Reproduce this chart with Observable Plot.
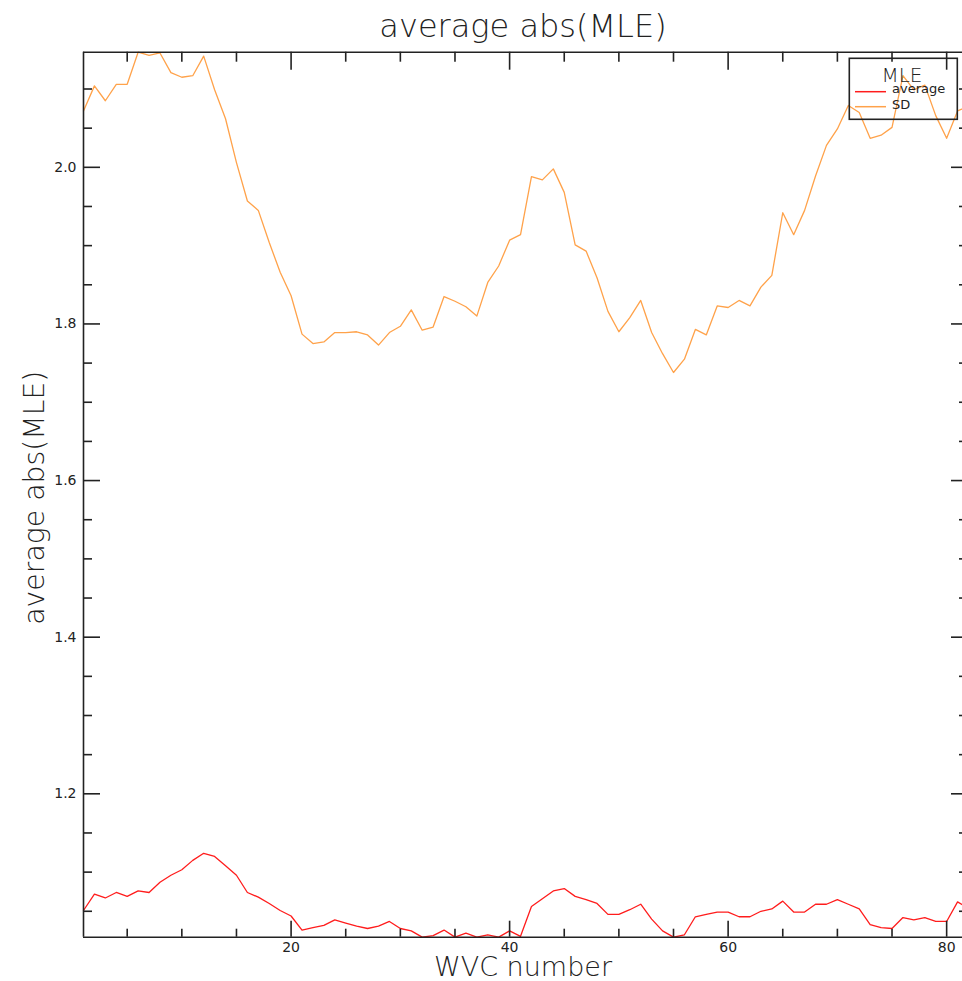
<!DOCTYPE html>
<html>
<head>
<meta charset="utf-8">
<script src="https://cdn.jsdelivr.net/npm/d3@7"></script>
<script src="https://cdn.jsdelivr.net/npm/@observablehq/plot@0.6"></script>
<style>
html, body { margin: 0; padding: 0; background: #fff; overflow: hidden; }
#chart svg { overflow: hidden; display: block; }
</style>
</head>
<body>
<div id="chart"></div>
<script>
// ---- data ----
const wvc = [1,2,3,4,5,6,7,8,9,10,11,12,13,14,15,16,17,18,19,20,21,22,23,24,25,26,27,28,29,30,31,32,33,34,35,36,37,38,39,40,41,42,43,44,45,46,47,48,49,50,51,52,53,54,55,56,57,58,59,60,61,62,63,64,65,66,67,68,69,70,71,72,73,74,75,76,77,78,79,80,81,82];
const sdValues = [2.072,2.104,2.085,2.106,2.106,2.147,2.143,2.146,2.121,2.115,2.117,2.142,2.099,2.062,2.006,1.957,1.945,1.904,1.866,1.836,1.787,1.775,1.777,1.789,1.789,1.790,1.786,1.773,1.789,1.797,1.818,1.792,1.796,1.835,1.829,1.822,1.810,1.853,1.874,1.907,1.914,1.988,1.984,1.998,1.968,1.901,1.893,1.859,1.816,1.790,1.808,1.830,1.789,1.762,1.738,1.755,1.793,1.786,1.823,1.821,1.830,1.823,1.847,1.862,1.942,1.914,1.945,1.989,2.028,2.049,2.079,2.070,2.037,2.041,2.051,2.117,2.099,2.105,2.066,2.037,2.072,2.078];
const averageValues = [1.051,1.072,1.067,1.074,1.069,1.076,1.074,1.087,1.096,1.103,1.115,1.124,1.120,1.108,1.096,1.074,1.068,1.060,1.051,1.044,1.026,1.029,1.032,1.039,1.035,1.031,1.028,1.031,1.037,1.028,1.025,1.017,1.019,1.026,1.017,1.022,1.017,1.020,1.017,1.025,1.018,1.056,1.066,1.076,1.079,1.069,1.065,1.060,1.046,1.046,1.052,1.059,1.040,1.025,1.017,1.020,1.043,1.046,1.049,1.049,1.043,1.043,1.050,1.053,1.063,1.049,1.049,1.059,1.059,1.065,1.059,1.053,1.033,1.029,1.028,1.042,1.039,1.042,1.037,1.037,1.062,1.054];
const seriesNames = ["average", "SD"];
const seriesColors = ["#ff1c1c", "#ffa24a"];
const xMajorTicks = [20, 40, 60, 80];
const xMinorTicks = [5, 10, 15, 25, 30, 35, 45, 50, 55, 65, 70, 75];
const yMajorTicks = [1.2, 1.4, 1.6, 1.8, 2.0];
const yMinorTicks = [1.05, 1.10, 1.15, 1.25, 1.30, 1.35, 1.45, 1.50, 1.55, 1.65, 1.70, 1.75, 1.85, 1.90, 1.95, 2.05, 2.10];
const titleText = "average abs(MLE)";
const xLabelText = "WVC number";
const yLabelText = "average abs(MLE)";
const legendTitle = "MLE";

// ---- layout ----
const W = 962, H = 981;
const mL = 83, mT = 51.7, mB = 44.3;
const xDomain = [1, 82];
const yDomain = [1.0169, 2.147];
const xRange = [mL, 968];
const yRange = [H - mB, mT];
const pxPerX = (xRange[1] - xRange[0]) / (xDomain[1] - xDomain[0]);
const pxPerY = (yRange[0] - yRange[1]) / (yDomain[1] - yDomain[0]);

const rows = wvc.flatMap((w, i) => [
  {wvc: w, value: averageValues[i], series: seriesNames[0]},
  {wvc: w, value: sdValues[i], series: seriesNames[1]}
]);

const axisColor = "#222";
const axisW = 1.6;
const lightFont = "'DejaVu Sans ExtraLight', 'DejaVu Sans', sans-serif";
const tickFont = "'DejaVu Sans', 'Liberation Sans', sans-serif";

function xTicks(values, lenBottom, lenTop) {
  return [
    Plot.ruleX(values, {x: d => d, y1: yDomain[0], y2: yDomain[0] + lenBottom / pxPerY, stroke: axisColor, strokeWidth: axisW}),
    Plot.ruleX(values, {x: d => d, y1: yDomain[1], y2: yDomain[1] - lenTop / pxPerY, stroke: axisColor, strokeWidth: axisW})
  ];
}
function yTicks(values, len) {
  return [
    Plot.ruleY(values, {y: d => d, x1: xDomain[0], x2: xDomain[0] + len / pxPerX, stroke: axisColor, strokeWidth: axisW}),
    Plot.ruleY(values, {y: d => d, x1: xDomain[1], x2: xDomain[1] - len / pxPerX, stroke: axisColor, strokeWidth: axisW})
  ];
}

const chart = Plot.plot({
  width: W,
  height: H,
  marginLeft: mL,
  marginRight: 0,
  marginTop: mT,
  marginBottom: mB,
  style: {background: "#fff", overflow: "hidden"},
  x: {domain: xDomain, range: xRange, axis: null},
  y: {domain: yDomain, range: yRange, axis: null},
  color: {domain: seriesNames, range: seriesColors},
  marks: [
    Plot.line(rows, {x: "wvc", y: "value", z: "series", stroke: "series", strokeWidth: 1.3, curve: "linear"}),
    // frame (left, top, bottom)
    Plot.ruleX([xDomain[0]], {stroke: axisColor, strokeWidth: axisW}),
    Plot.ruleY([yDomain[0], yDomain[1]], {stroke: axisColor, strokeWidth: axisW}),
    ...xTicks(xMajorTicks, 16, 18),
    ...xTicks(xMinorTicks, 8, 10),
    ...yTicks(yMajorTicks, 17),
    ...yTicks(yMinorTicks, 9),
    Plot.text(yMajorTicks, {x: xDomain[0], y: d => d, text: d => d.toFixed(1), textAnchor: "end", dx: -7, lineAnchor: "middle", fontSize: 14, fontFamily: tickFont, fill: "#222"}),
    Plot.text(xMajorTicks, {x: d => d, y: yDomain[0], text: d => String(d), textAnchor: "middle", dy: 10, lineAnchor: "middle", fontSize: 14, fontFamily: tickFont, fill: "#222"}),
    Plot.text([titleText], {frameAnchor: "top", text: d => d, textAnchor: "middle", lineAnchor: "bottom", dy: -15.2, fontSize: 32, fontWeight: 200, fontFamily: lightFont, fill: "#222"}),
    Plot.text([xLabelText], {frameAnchor: "bottom", text: d => d, textAnchor: "middle", lineAnchor: "bottom", dy: 38.5, fontSize: 27, fontWeight: 200, fontFamily: lightFont, fill: "#222"}),
    Plot.text([yLabelText], {frameAnchor: "left", text: d => d, textAnchor: "middle", rotate: -90, lineAnchor: "middle", dx: -49, dy: 3, fontSize: 28.3, fontWeight: 200, fontFamily: lightFont, fill: "#222"})
  ]
});

document.getElementById("chart").appendChild(chart);

// ---- legend (drawn inside the plot's SVG) ----
const svg = d3.select(chart);
const lg = svg.append("g").attr("class", "legend");
lg.append("rect").attr("x", 849.3).attr("y", 58.3).attr("width", 108).attr("height", 61)
  .attr("fill", "none").attr("stroke", axisColor).attr("stroke-width", axisW);
lg.append("text").attr("x", 902).attr("y", 81.7).attr("text-anchor", "middle")
  .attr("font-family", lightFont).attr("font-weight", 200).attr("font-size", 20)
  .attr("fill", "#222").text(legendTitle);
seriesNames.forEach((name, i) => {
  const yLine = 91.7 + i * 15;
  lg.append("line").attr("x1", 855).attr("x2", 886).attr("y1", yLine).attr("y2", yLine)
    .attr("stroke", seriesColors[i]).attr("stroke-width", 1.5);
  lg.append("text").attr("x", 892).attr("y", 93 + i * 16.3).attr("text-anchor", "start")
    .attr("font-family", tickFont).attr("font-size", 13).attr("fill", "#222").text(name);
});
</script>
</body>
</html>
